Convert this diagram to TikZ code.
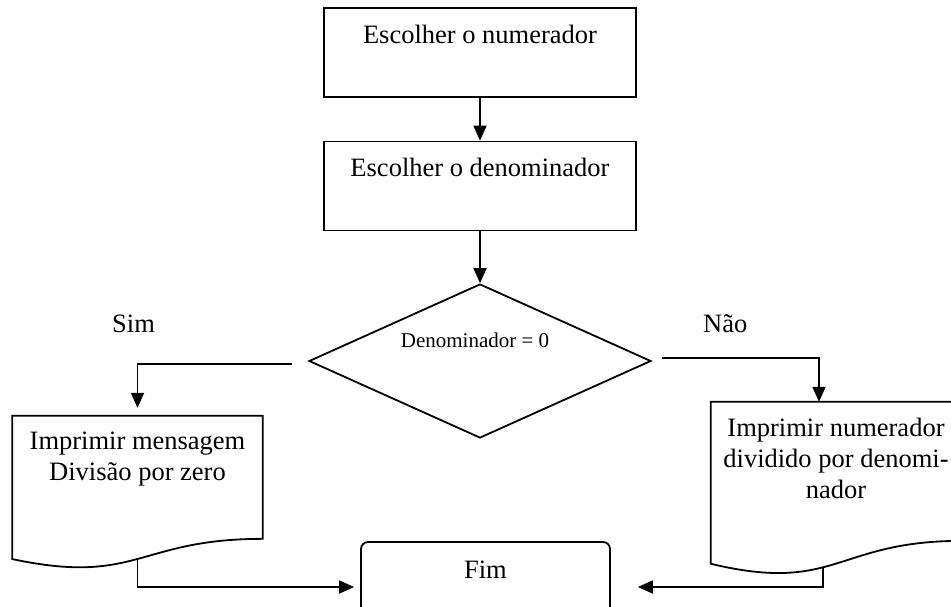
\documentclass[tikz,border=0pt]{standalone}
\usepackage{fontspec}
\setmainfont{Liberation Serif}
\usepackage{tikz}
\usetikzlibrary{shapes.geometric, arrows.meta, positioning, calc}
\newcommand{\bigtext}{\fontsize{26.5}{31}\selectfont}
\newcommand{\docoutline}[1]{%
  \draw[line] (#1.north west) -- (#1.north east)
    -- ($(#1.north east)!.802!(#1.south east)$)
    .. controls ($(#1.north)!.802!(#1.south)$) and ($(#1.north)!1.108!(#1.south)$)
    .. ($(#1.north west)!.934!(#1.south west)$) -- cycle;}
\tikzset{
  procbox/.style={rectangle, draw, line width=1.8pt, minimum width=312pt,
    inner sep=0pt, text height=35pt, text depth=54pt, font=\bigtext},
  decision/.style={diamond, draw, line width=1.8pt, minimum width=342pt,
    minimum height=154pt, inner sep=0pt},
  docbox/.style={rectangle, minimum width=250pt, inner sep=0pt},
  doctext/.style={align=center, anchor=north, inner sep=0pt, font=\bigtext},
  endbox/.style={rectangle, draw, rounded corners=7pt, line width=1.8pt,
    minimum width=249pt, inner sep=0pt, text height=36pt, text depth=54pt,
    font=\bigtext},
  answer/.style={anchor=base west, inner sep=0pt, font=\bigtext},
  arrow/.style={-{Triangle[length=15pt,width=13pt]}, line width=1.8pt},
  line/.style={line width=1.8pt}
}
\begin{document}
\begin{tikzpicture}[x=1pt, y=-1pt]
  \useasboundingbox (0,0) rectangle (951,606);
  \clip (0,0) rectangle (951,606);
  \node[procbox] (num) at (480,52.5) {Escolher o numerador};
  \node[procbox] (den) at (480,186) {Escolher o denominador};
  \node[decision] (test) at (480,361) {};
  \node[font=\fontsize{21}{25}\selectfont, inner sep=0pt] (testtxt)
    at ([xshift=-5pt,yshift=21pt]test.center) {Denominador = 0};
  \node[answer] (sim) at (112,332) {Sim};
  \node[answer] (nao) at (703,332) {Não};
  % output documents
  \node[docbox, minimum height=153pt] (err) at (137.5,492.5) {};
  \docoutline{err}
  \node[doctext] (errtxt) at ([yshift=-16pt]err.north) {Imprimir mensagem\\Divisão por zero};
  \node[docbox, minimum height=173pt] (ok) at (836,488.5) {};
  \docoutline{ok}
  \node[doctext] (oktxt) at ([yshift=-16pt]ok.north) {Imprimir numerador\\dividido por denomi-\\nador};
  \node[endbox] (fim) at (485.5,587) {Fim};
  % connectors
  \draw[arrow] (num) -- (den);
  \draw[arrow] (den) -- (test);
  \draw[arrow] ([xshift=-16pt,yshift=-3pt]test.west) -| ([yshift=8pt]err.north);
  \draw[arrow] ([xshift=10pt,yshift=3pt]test.east) -| ([xshift=-17pt]ok.north);
  \draw[arrow] ($(err.north)!.935!(err.south)$) |- ([xshift=-6pt]fim.west);
  \draw[arrow] ($(ok.north)!.95!(ok.south)+(-13,0)$) |- ([xshift=27pt]fim.east);
\end{tikzpicture}
\end{document}
